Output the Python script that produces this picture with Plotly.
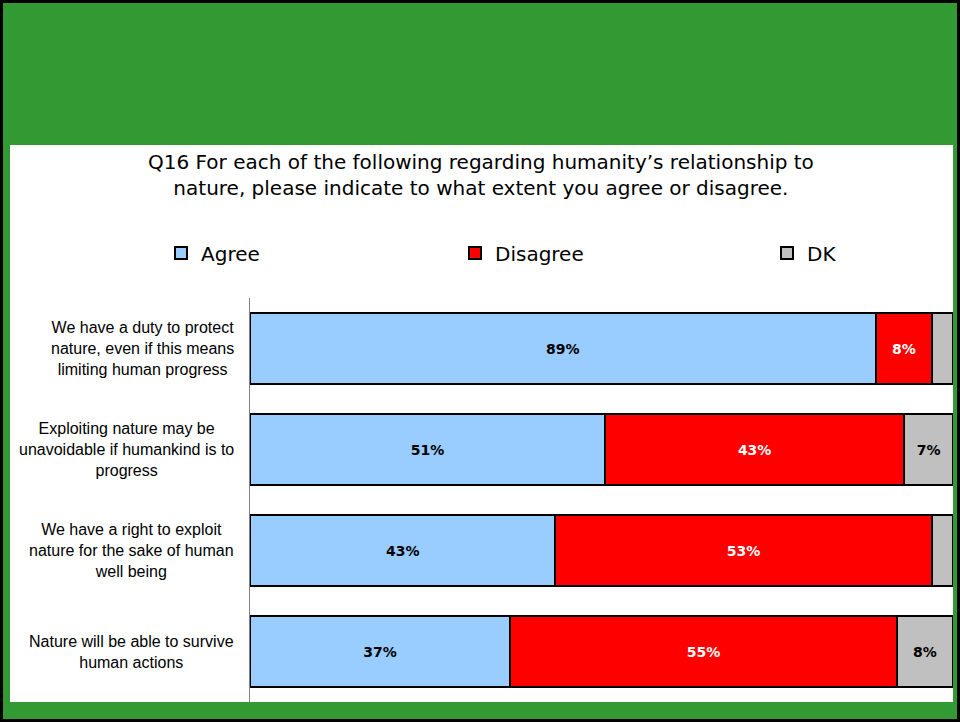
import plotly.graph_objects as go

# Survey statements (top to bottom)
statements = [
    "We have a duty to protect<br>nature, even if this means<br>limiting human progress",
    "Exploiting nature may be<br>unavoidable if humankind is to<br>progress",
    "We have a right to exploit<br>nature for the sake of human<br>well being",
    "Nature will be able to survive<br>human actions",
]
cat_ids = ["s1", "s2", "s3", "s4"]

# Response shares (%)
agree = [89, 51, 43, 37]
disagree = [8, 43, 53, 55]
dk = [3, 7, 3, 8]

series = [
    ("Agree", agree, "#99CCFF", "#000000", "legend"),
    ("Disagree", disagree, "#FF0000", "#FFFFFF", "legend2"),
    ("DK", dk, "#C0C0C0", "#000000", "legend3"),
]

W, H = 960, 722
L, R, T, B = 250, 7, 298, 20
PW, PH = W - L - R, H - T - B


def px_x(px):
    return (px - L) / PW


def px_y(py):
    return (H - B - py) / PH


fig = go.Figure()
for name, vals, color, tcolor, leg in series:
    fig.add_trace(go.Bar(
        name=name,
        y=cat_ids,
        x=vals,
        orientation="h",
        legend=leg,
        marker=dict(color=color, line=dict(color="#000000", width=2)),
        text=[f"{v}%" if v >= 5 else "" for v in vals],
        textposition="inside",
        insidetextanchor="middle",
        textangle=0,
        constraintext="none",
        textfont=dict(family="DejaVu Sans, Verdana, sans-serif", size=14,
                      color=tcolor, weight="bold"),
        hoverinfo="skip",
    ))

# Category labels: block right-aligned, lines centred
annotations = []
for cid, label in zip(cat_ids, statements):
    annotations.append(dict(
        x=px_x(236), xref="paper", y=cid, yref="y",
        text=label, showarrow=False, xanchor="right", yanchor="middle",
        align="center",
        font=dict(family="Liberation Sans, Arial, sans-serif", size=16, color="#000000"),
    ))

# Chart title
annotations.append(dict(
    x=px_x(481), xref="paper", y=px_y(175), yref="paper",
    text="Q16 For each of the following regarding humanity’s relationship to<br>"
         "nature, please indicate to what extent you agree or disagree.",
    showarrow=False, xanchor="center", yanchor="middle", align="center",
    font=dict(family="DejaVu Sans, Verdana, sans-serif", size=20, color="#000000"),
))

shapes = [
    # white content panel
    dict(type="rect", xref="paper", yref="paper", layer="below",
         x0=px_x(10), x1=px_x(953), y0=px_y(702), y1=px_y(145),
         fillcolor="#FFFFFF", line=dict(width=0)),
    # outer frame
    dict(type="rect", xref="paper", yref="paper", layer="above",
         x0=px_x(1.5), x1=px_x(958.5), y0=px_y(720.5), y1=px_y(1.5),
         fillcolor="rgba(0,0,0,0)", line=dict(color="#000000", width=3)),
]

legend_font = dict(family="DejaVu Sans, Verdana, sans-serif", size=20, color="#000000")


def legend_at(px):
    return dict(
        x=px_x(px), xanchor="left", xref="paper",
        y=px_y(253), yanchor="middle", yref="paper",
        font=legend_font, bgcolor="rgba(0,0,0,0)", borderwidth=0,
    )


fig.update_layout(
    width=W, height=H,
    margin=dict(l=L, r=R, t=T, b=B),
    paper_bgcolor="#339933",
    plot_bgcolor="#FFFFFF",
    barmode="stack",
    barnorm="percent",
    bargap=0.29,
    legend=legend_at(161),
    legend2=legend_at(455),
    legend3=legend_at(767),
    xaxis=dict(range=[0, 100], visible=False, fixedrange=True),
    yaxis=dict(
        categoryorder="array", categoryarray=cat_ids, autorange="reversed",
        showticklabels=False, ticks="", showgrid=False, zeroline=False,
        showline=True, linecolor="#808080", linewidth=1,
    ),
    annotations=annotations,
    shapes=shapes,
    showlegend=True,
)

fig.write_html("out.html")
